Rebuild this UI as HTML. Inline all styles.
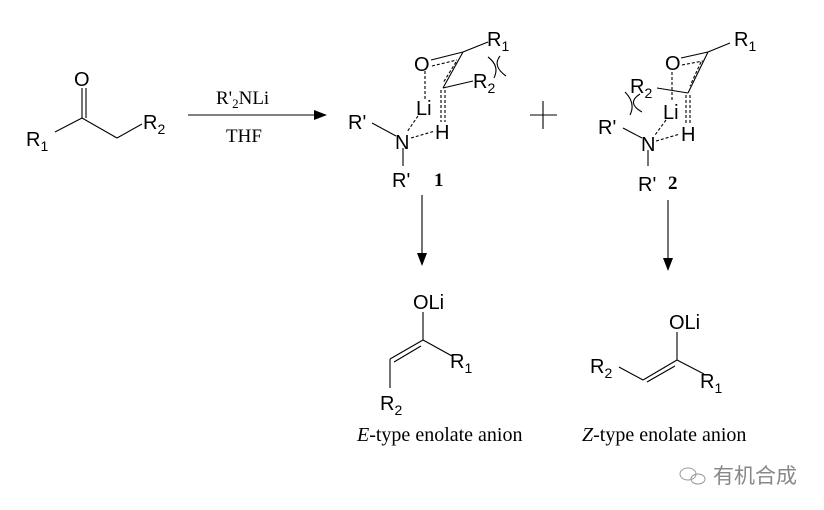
<!DOCTYPE html>
<html><head><meta charset="utf-8"><style>
html,body{margin:0;padding:0;background:#fff}
svg{display:block}
text{font-family:"Liberation Sans",sans-serif;fill:#000}
.s{font-family:"Liberation Serif",serif}
</style></head><body>
<svg width="824" height="510" viewBox="0 0 824 510" xmlns="http://www.w3.org/2000/svg">
<g stroke="#000" stroke-width="1.1" fill="none">
<line x1="82" y1="88" x2="82" y2="118"/>
<line x1="86" y1="88" x2="86" y2="118"/>
<line x1="82" y1="118" x2="55" y2="132"/>
<line x1="82" y1="118" x2="117" y2="138"/>
<line x1="117" y1="138" x2="142" y2="124"/>
<line x1="188" y1="115" x2="318" y2="115"/>
<line x1="431" y1="60" x2="463" y2="52"/>
<line x1="432" y1="66" x2="457" y2="60" stroke-dasharray="3,2"/>
<line x1="463" y1="52" x2="443" y2="88"/>
<line x1="456" y1="62" x2="443" y2="83" stroke-dasharray="3,2"/>
<line x1="463" y1="52" x2="488" y2="42"/>
<line x1="443" y1="88" x2="473" y2="81"/>
<line x1="425" y1="71" x2="425" y2="99" stroke-dasharray="3,2"/>
<line x1="441" y1="90" x2="441" y2="122" stroke-dasharray="3,2"/>
<line x1="445" y1="90" x2="445" y2="122" stroke-dasharray="3,2"/>
<line x1="418" y1="116" x2="407" y2="132" stroke-dasharray="3,2"/>
<line x1="411" y1="138" x2="435" y2="131" stroke-dasharray="3,2"/>
<line x1="372" y1="123" x2="396" y2="136"/>
<line x1="403" y1="148" x2="403" y2="166"/>
<path d="M488 57 Q500 66 494 78"/>
<path d="M500 56 Q492 66 506 76"/>
<line x1="530" y1="115" x2="557" y2="115"/>
<line x1="543" y1="101" x2="543" y2="129"/>
<line x1="681" y1="58" x2="708" y2="52"/>
<line x1="682" y1="65" x2="703" y2="61" stroke-dasharray="3,2"/>
<line x1="708" y1="52" x2="688" y2="93"/>
<line x1="701" y1="62" x2="690" y2="86" stroke-dasharray="3,2"/>
<line x1="708" y1="52" x2="730" y2="43"/>
<line x1="657" y1="88" x2="688" y2="93"/>
<line x1="672" y1="72" x2="672" y2="100" stroke-dasharray="3,2"/>
<line x1="686" y1="95" x2="686" y2="124" stroke-dasharray="3,2"/>
<line x1="690" y1="95" x2="690" y2="124" stroke-dasharray="3,2"/>
<line x1="666" y1="120" x2="655" y2="135" stroke-dasharray="3,2"/>
<line x1="656" y1="141" x2="680" y2="134" stroke-dasharray="3,2"/>
<line x1="623" y1="128" x2="642" y2="138"/>
<line x1="648" y1="150" x2="648" y2="166"/>
<path d="M625 92 Q636 103 630 115"/>
<path d="M640 94 Q626 103 642 112"/>
<line x1="422" y1="195" x2="422" y2="258"/>
<line x1="668" y1="200" x2="668" y2="263"/>
<line x1="423" y1="312" x2="423" y2="340"/>
<line x1="423" y1="340" x2="390" y2="359"/>
<line x1="421" y1="346" x2="394" y2="362"/>
<line x1="423" y1="340" x2="452" y2="356"/>
<line x1="390" y1="359" x2="390" y2="388"/>
<line x1="677" y1="332" x2="677" y2="360"/>
<line x1="677" y1="360" x2="643" y2="380"/>
<line x1="675" y1="366" x2="647" y2="382"/>
<line x1="677" y1="360" x2="704" y2="374"/>
<line x1="643" y1="380" x2="619" y2="367"/>
</g>
<g fill="#000">
<polygon points="327,115 314,110 314,120"/>
<polygon points="422,266 417,253 427,253"/>
<polygon points="668,271 663,258 673,258"/>
</g>
<g font-size="20">
<text x="74" y="86">O</text>
<text x="26" y="146">R<tspan font-size="14" dy="5">1</tspan></text>
<text x="143" y="129">R<tspan font-size="14" dy="5">2</tspan></text>
<text class="s" x="216" y="104" font-size="19">R'<tspan font-size="13" dy="4">2</tspan><tspan dy="-4">NLi</tspan></text>
<text class="s" x="226" y="142" font-size="19">THF</text>
<text x="414" y="71">O</text>
<text x="487" y="46">R<tspan font-size="14" dy="5">1</tspan></text>
<text x="473" y="88">R<tspan font-size="14" dy="5">2</tspan></text>
<text x="416" y="115">Li</text>
<text x="435" y="139">H</text>
<text x="395" y="149">N</text>
<text x="348" y="129">R'</text>
<text x="392" y="187">R'</text>
<text class="s" x="434" y="186" font-weight="bold" font-size="19">1</text>
<text x="665" y="70">O</text>
<text x="734" y="46">R<tspan font-size="14" dy="5">1</tspan></text>
<text x="630" y="93">R<tspan font-size="14" dy="5">2</tspan></text>
<text x="663" y="119">Li</text>
<text x="681" y="141">H</text>
<text x="641" y="151">N</text>
<text x="598" y="134">R'</text>
<text x="638" y="191">R'</text>
<text class="s" x="668" y="189" font-weight="bold" font-size="19">2</text>
<text x="413" y="309">OLi</text>
<text x="450" y="368">R<tspan font-size="14" dy="5">1</tspan></text>
<text x="380" y="410">R<tspan font-size="14" dy="5">2</tspan></text>
<text x="669" y="329">OLi</text>
<text x="700" y="388">R<tspan font-size="14" dy="5">1</tspan></text>
<text x="590" y="373">R<tspan font-size="14" dy="5">2</tspan></text>
<text class="s" x="357" y="441" font-size="20"><tspan font-style="italic">E</tspan>-type enolate anion</text>
<text class="s" x="582" y="441" font-size="20"><tspan font-style="italic">Z</tspan>-type enolate anion</text>
</g>
<g stroke="#999" fill="none" stroke-width="1">
<ellipse cx="688" cy="474" rx="8" ry="6"/>
<ellipse cx="698" cy="479" rx="7" ry="5"/>
</g>
<text x="713" y="483" font-size="21" style="fill:#888;font-family:'Liberation Sans','Noto Sans CJK SC',sans-serif">有机合成</text>
</svg>
</body></html>
